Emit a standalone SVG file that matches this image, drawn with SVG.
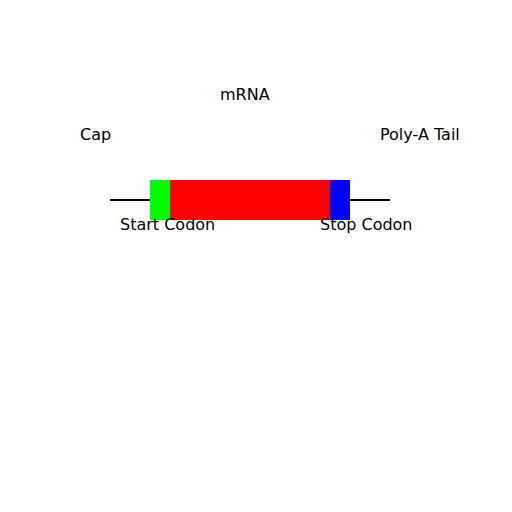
<svg xmlns="http://www.w3.org/2000/svg" width="512" height="512" viewBox="0 0 512 512">
<style>
text{font-family:"DejaVu Sans",sans-serif;font-size:16px;fill:#000}
.strand{stroke:#000;stroke-width:2}
</style>
<rect width="512" height="512" fill="#fff"/>
<g id="connectors">
<line class="strand" x1="110" y1="200" x2="150" y2="200"/>
<line class="strand" x1="350" y1="200" x2="390" y2="200"/>
</g>
<g id="start-codon"><rect x="150" y="180" width="20" height="40" fill="#00ff00"/></g>
<g id="coding"><rect x="170" y="180" width="160" height="40" fill="#ff0000"/></g>
<g id="stop-codon"><rect x="330" y="180" width="20" height="40" fill="#0000ff"/></g>
<g id="labels">
<text x="220" y="100">mRNA</text>
<text x="80" y="140">Cap</text>
<text x="380" y="140">Poly-A Tail</text>
<text x="120" y="230">Start Codon</text>
<text x="320" y="230">Stop Codon</text>
</g>
</svg>
